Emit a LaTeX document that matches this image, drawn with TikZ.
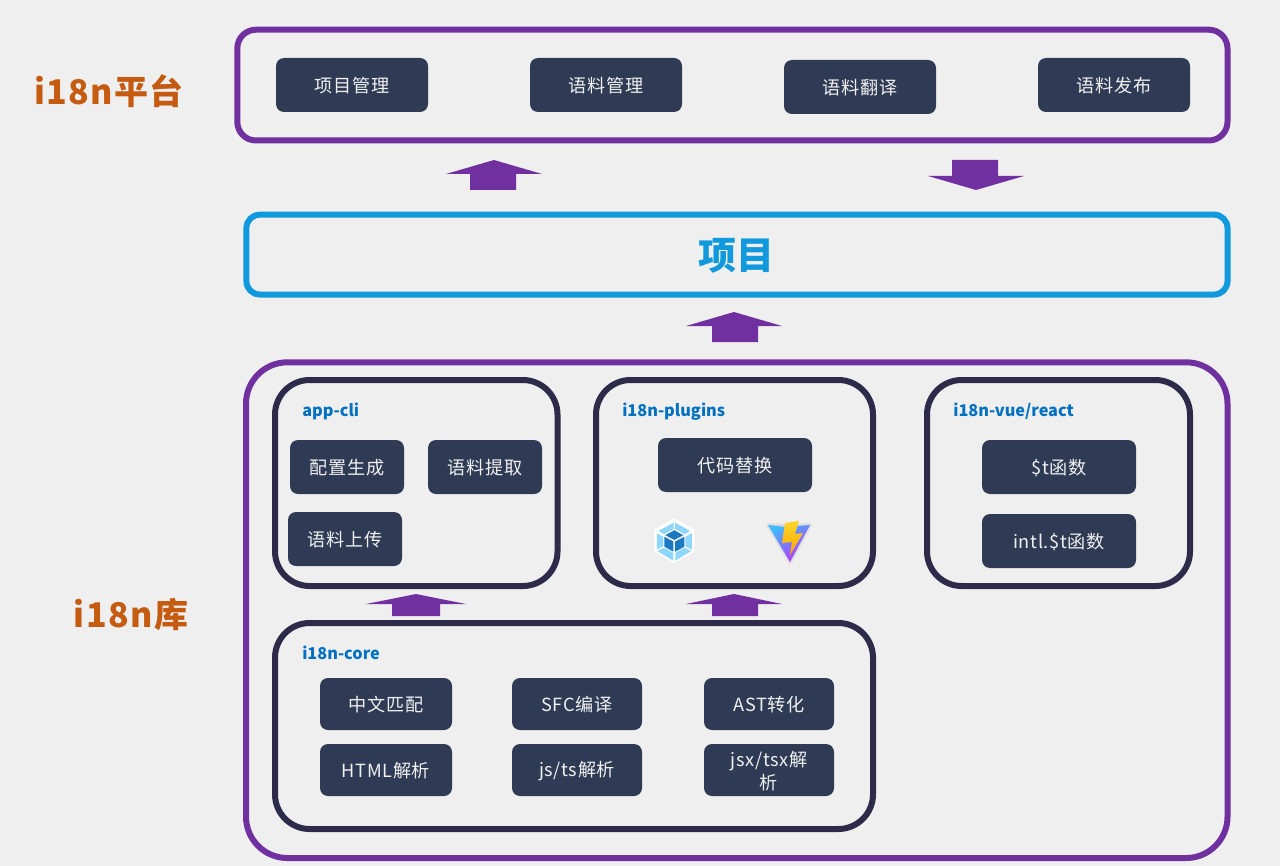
\documentclass[tikz,border=0pt]{standalone}
\usepackage{fontspec}
\setmainfont{Noto Sans CJK SC}
\newfontfamily\btnfont[LetterSpace=3.5]{Noto Sans CJK SC}
\newfontfamily\headfont[LetterSpace=4]{Noto Sans CJK SC}
\usetikzlibrary{calc}
\definecolor{bgc}{HTML}{EFEFEF}
\definecolor{purp}{HTML}{7030A0}
\definecolor{skyb}{HTML}{1199DD}
\definecolor{darkf}{HTML}{2D2A4A}
\definecolor{btnc}{HTML}{2F3B55}
\definecolor{labb}{HTML}{0070C0}
\definecolor{orng}{HTML}{C55A11}
\definecolor{wpl}{HTML}{8ED6FB}
\definecolor{wpd}{HTML}{1C78C0}
\definecolor{vblue}{HTML}{41B8FF}
\definecolor{vpurp}{HTML}{BD34FE}
\definecolor{vyel}{HTML}{FFD62E}
\definecolor{vorg}{HTML}{FFA800}
\tikzset{
  x=0.75pt,y=-0.75pt,
  btn/.style={fill=btnc,rounded corners=6pt,inner sep=0pt},
  btntext/.style={text=white!94!black,align=center,inner sep=0pt,font=\btnfont\fontsize{13.6pt}{17pt}\selectfont},
  frame/.style={draw=#1,line width=4.5pt,fill=none},
  arrowb/.style={fill=purp,draw=none},
  grp/.style={text=labb,font=\bfseries\fontsize{12.2pt}{15pt}\selectfont,anchor=west,inner sep=0pt},
  side/.style={text=orng,font=\headfont\bfseries\fontsize{25.5pt}{30pt}\selectfont,inner sep=0pt},
}
\newcommand{\pbtn}[6]{\node[btn,minimum width=#4*0.75pt,minimum height=#5*0.75pt] (#1) at (#2,#3) {};
  \node[btntext,text width=#4*0.75pt-8pt,yshift=-0.75pt] (#1t) at (#1.center) {#6};}
\begin{document}
\begin{tikzpicture}
\useasboundingbox (0,0) rectangle (1280,866);
\fill[bgc] (0,0) rectangle (1280,866);

% frames
\draw[frame=purp,rounded corners=14pt] (237.3,29.7) rectangle (1227.5,140.5);
\draw[frame=skyb,rounded corners=10pt] (246.4,214.7) rectangle (1227.5,294.5);
\draw[frame=purp,rounded corners=31pt] (246,362.3) rectangle (1227.5,858);
\draw[frame=darkf,rounded corners=26pt] (275,380) rectangle (557.5,586);
\draw[frame=darkf,rounded corners=26pt] (596,380) rectangle (873,586);
\draw[frame=darkf,rounded corners=26pt] (927,380) rectangle (1190,586);
\draw[frame=darkf,rounded corners=26pt] (275,623) rectangle (873,829);

% side labels
\node[side] (platform) at (109,91) {i18n平台};
\node[side] (lib) at (131,615) {i18n库};
\node[text=skyb,font=\bfseries\fontsize{28.5pt}{32pt}\selectfont,inner sep=0pt] (proj) at (736,256) {项目};

% platform
\pbtn{p1}{352}{85}{152}{54}{项目管理}
\pbtn{p2}{606}{85}{152}{54}{语料管理}
\pbtn{p3}{860}{87}{152}{54}{语料翻译}
\pbtn{p4}{1114}{85}{152}{54}{语料发布}

% app-cli
\node[grp] (g1) at (302,411) {app-cli};
\pbtn{a1}{347}{467}{114}{54}{配置生成}
\pbtn{a2}{485}{467}{114}{54}{语料提取}
\pbtn{a3}{345}{539}{114}{54}{语料上传}

% plugins
\node[grp] (g2) at (622,412) {i18n-plugins};
\pbtn{b1}{735}{465}{154}{54}{代码替换}

% vue
\node[grp] (g3) at (953,411) {i18n-vue/react};
\pbtn{c1}{1059}{467}{154}{54}{\$t函数}
\pbtn{c2}{1059}{541}{154}{54}{intl.\$t函数}

% core
\node[grp] (g4) at (302,653) {i18n-core};
\pbtn{d1}{386}{704}{132}{52}{中文匹配}
\pbtn{d2}{577}{704}{130}{52}{SFC编译}
\pbtn{d3}{769}{704}{130}{52}{AST转化}
\pbtn{d4}{386}{770}{132}{52}{HTML解析}
\pbtn{d5}{577}{770}{130}{52}{js/ts解析}
\pbtn{d6}{769}{770}{130}{52}{jsx/tsx解\\析}

% block arrows
\fill[arrowb] (494,160) -- (542,174) -- (516,174) -- (516,190) -- (470,190) -- (470,174) -- (446,174) -- cycle;
\fill[arrowb] (976,190) -- (1024,176) -- (998,176) -- (998,160) -- (952,160) -- (952,176) -- (928,176) -- cycle;
\fill[arrowb] (734,312) -- (782,326) -- (758,326) -- (758,342) -- (712,342) -- (712,326) -- (686,326) -- cycle;
\fill[arrowb] (416,594) -- (466,604) -- (440,604) -- (440,616) -- (392,616) -- (392,604) -- (366,604) -- cycle;
\fill[arrowb] (734,594) -- (782,604) -- (758,604) -- (758,616) -- (712,616) -- (712,604) -- (686,604) -- cycle;

% webpack icon
\begin{scope}[shift={(674.3,540.7)}]
  \fill[white] (0,-22.5) -- (20,-11) -- (20,11) -- (0,22.5) -- (-20,11) -- (-20,-11) -- cycle;
  \fill[wpl] (0,-18.5) -- (16.5,-9.3) -- (0,-0.5) -- (-16.5,-9.3) -- cycle;
  \fill[wpl] (-17.5,-7.5) -- (-1,2) -- (-1,20) -- (-17.5,10) -- cycle;
  \fill[wpl] (17.5,-7.5) -- (1,2) -- (1,20) -- (17.5,10) -- cycle;
  \draw[white,line width=1pt] (0,-20) -- (0,-11) (-18,-10) -- (-10,-5.5) (18,-10) -- (10,-5.5)
     (-18,10) -- (-10,6) (18,10) -- (10,6) (0,20) -- (0,12);
  \fill[white] (0,-12) -- (11,-6) -- (11,6.5) -- (0,12.5) -- (-11,6.5) -- (-11,-6) -- cycle;
  \fill[wpd] (0,-10.5) -- (9,-5.5) -- (0,-0.8) -- (-9,-5.5) -- cycle;
  \fill[wpd] (-10,-4) -- (-0.9,0.8) -- (-0.9,11) -- (-10,6) -- cycle;
  \fill[wpd] (10,-4) -- (0.9,0.8) -- (0.9,11) -- (10,6) -- cycle;
\end{scope}

% vite icon
\draw[black,opacity=0.06,line width=3pt,line join=round,fill=black,fill opacity=0.06]
  (768,525) -- (810,525) -- (790,562) -- cycle;
\path[shade,left color=vblue,right color=vpurp,shading angle=30]
  (768,525) -- (785,527) -- (810,525) -- (790,562) -- cycle;
\path[shade,top color=vyel,bottom color=vorg]
  (785,523) -- (799,520.7) -- (795,534) -- (803,533) -- (790,555) -- (792,542) -- (782,543) -- cycle;
\end{tikzpicture}
\end{document}
